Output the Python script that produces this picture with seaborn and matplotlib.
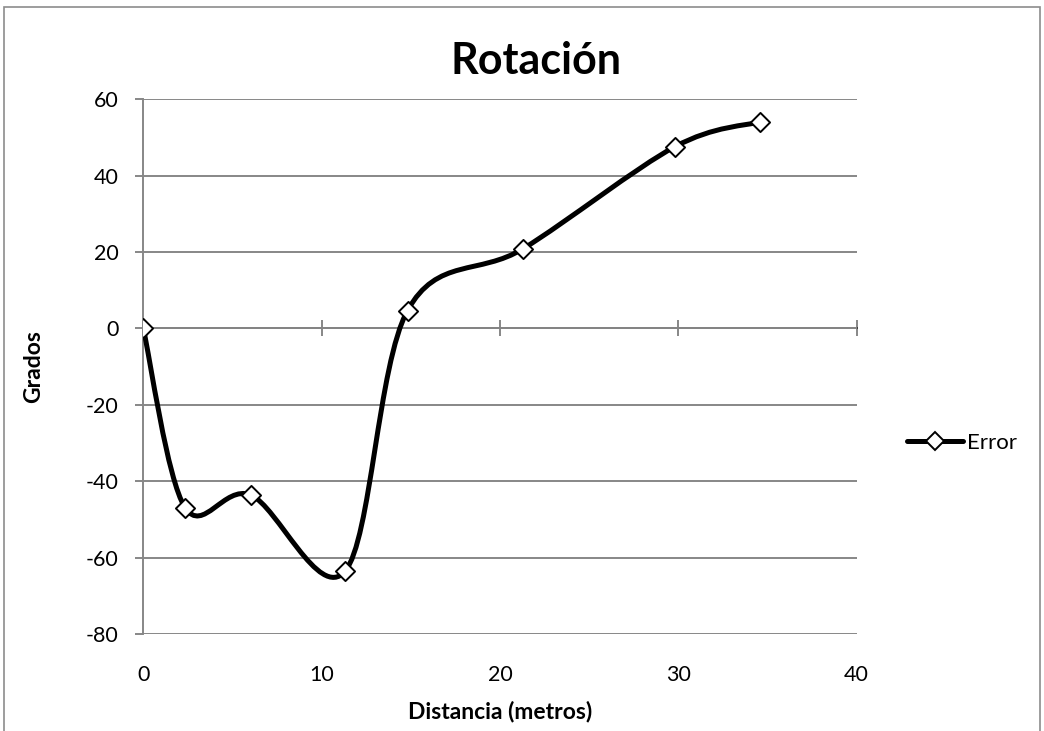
import numpy as np
import pandas as pd
import matplotlib
matplotlib.use("Agg")
import matplotlib.pyplot as plt
import seaborn as sns
from matplotlib.path import Path
from matplotlib.patches import PathPatch, Rectangle
from matplotlib.lines import Line2D

# ---- data ----
distancia = [0.0, 2.34, 6.02, 11.31, 14.82, 21.31, 29.82, 34.59]
grados = [0.0, -46.9, -43.6, -63.6, 4.7, 20.9, 47.6, 54.1]
series_name = "Error"
x_ticks = [0, 10, 20, 30, 40]
y_ticks = [-80, -60, -40, -20, 0, 20, 40, 60]
title = "Rotación"
x_label = "Distancia (metros)"
y_label = "Grados"

df = pd.DataFrame({"x": distancia, "y": grados})

sns.set_theme(style="white")
plt.rcParams["font.family"] = ["Lato", "DejaVu Sans"]
plt.rcParams["text.color"] = "black"
plt.rcParams["axes.labelcolor"] = "black"
plt.rcParams["xtick.labelcolor"] = "black"
plt.rcParams["ytick.labelcolor"] = "black"

W, H = 1044, 731
fig = plt.figure(figsize=(W / 100, H / 100), dpi=100)
ax_h = 634 - 99.3
ax_w = 856.5 - 143.3
ax = fig.add_axes([143.3 / W, (H - 634) / H, ax_w / W, ax_h / H])

grid_c = "#878787"

# Smooth (Excel-like Catmull-Rom Bezier) curve through the data points
pts = np.column_stack([df["x"].values, df["y"].values])
verts = [tuple(pts[0])]
codes = [Path.MOVETO]
n = len(pts)
for i in range(n - 1):
    p0 = pts[i - 1] if i > 0 else pts[i]
    p1 = pts[i]
    p2 = pts[i + 1]
    p3 = pts[i + 2] if i + 2 < n else pts[i + 1]
    c1 = p1 + (p2 - p0) / 6.0
    c2 = p2 - (p3 - p1) / 6.0
    verts += [tuple(c1), tuple(c2), tuple(p2)]
    codes += [Path.CURVE4] * 3
ax.add_patch(PathPatch(Path(verts, codes), facecolor="none", edgecolor="black",
                       lw=3.6, capstyle="round", joinstyle="round", zorder=3))

sns.scatterplot(data=df, x="x", y="y", marker="D", s=95, color="white",
                edgecolor="black", linewidth=1.4, ax=ax, zorder=4, legend=False)

ax.set_xlim(0, 40)
ax.set_ylim(-80, 60)
ax.set_xticks(x_ticks)
ax.set_yticks(y_ticks)
ax.set_xticklabels([str(t) for t in x_ticks])
ax.set_yticklabels([str(t) for t in y_ticks])

for yv in y_ticks:
    ax.axhline(yv, color=grid_c, lw=1.4, zorder=1)

for s in ["top", "right", "bottom"]:
    ax.spines[s].set_visible(False)
ax.spines["left"].set_color(grid_c)
ax.spines["left"].set_linewidth(1.4)

tick_fs = 15.5
ax.tick_params(axis="y", direction="out", length=6, width=1.4, color=grid_c,
               labelsize=tick_fs, pad=12, left=True, labelcolor="black")
ax.tick_params(axis="x", length=0, labelsize=tick_fs, pad=22, labelcolor="black")

# crossing horizontal axis at y = 0
secax = ax.secondary_xaxis((0 - (-80)) / 140)
secax.set_xticks(x_ticks)
secax.set_xticklabels([])
secax.tick_params(direction="inout", length=12, width=1.4, color=grid_c)
secax.spines["bottom"].set_color(grid_c)
secax.spines["bottom"].set_linewidth(1.4)
secax.spines["bottom"].set_visible(True)

ax.set_xlabel(x_label, fontsize=16.5, fontweight="bold", color="black")
ax.set_ylabel(y_label, fontsize=16.5, fontweight="bold", color="black")
ax.xaxis.set_label_coords(0.5, (634 - 711) / ax_h)
ax.xaxis.label.set_va("center")
ax.yaxis.set_label_coords((34 - 143.3) / ax_w, 0.5)
ax.yaxis.label.set_va("center")

fig.text(536 / W, 1 - 61 / H, title, fontsize=31, fontweight="bold",
         ha="center", va="center", color="black")

handle = Line2D([], [], color="black", lw=3.6, marker="D", markersize=9,
                markerfacecolor="white", markeredgecolor="black", markeredgewidth=1.4)
leg = fig.legend([handle], [series_name], loc="center left",
                 bbox_to_anchor=(907 / W, 1 - 443 / H), frameon=False, fontsize=16,
                 handlelength=2.5, handletextpad=0.2, borderaxespad=0, borderpad=0)
for t in leg.get_texts():
    t.set_color("black")

fig.patches.append(Rectangle((4 / W, -0.05), (1040 - 4) / W, 1.05 - 7 / H,
                             transform=fig.transFigure, fill=False,
                             edgecolor="#8c8c8c", lw=1.2, clip_on=False))

fig.savefig("out.png", dpi=100, facecolor="white")
